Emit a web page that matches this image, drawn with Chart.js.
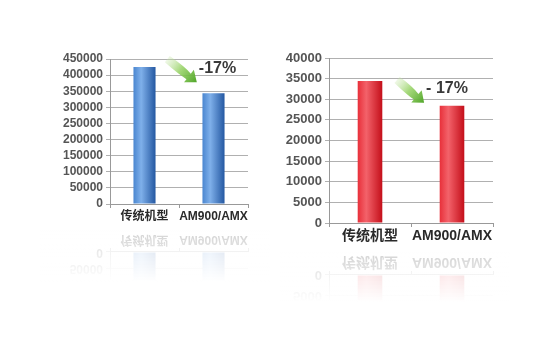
<!DOCTYPE html>
<html>
<head>
<meta charset="utf-8">
<script src="https://cdn.jsdelivr.net/npm/chart.js@4.4.1/dist/chart.umd.min.js"></script>
<style>
  html, body { margin: 0; padding: 0; background: #fff; }
  #wrap { position: relative; width: 540px; height: 360px; overflow: hidden; }
  canvas { position: absolute; }
  #leftChart { left: 40px; top: 40px; }
  #rightChart { left: 280px; top: 40px; }
</style>
</head>
<body>
<div id="wrap">
  <canvas id="leftChart" width="230" height="260"></canvas>
  <canvas id="rightChart" width="230" height="280"></canvas>
</div>
<script>
const categories = ["传统机型", "AM900/AMX"];
const leftValues = [425000, 344000];
const rightValues = [34400, 28400];
const leftTicks = [0, 50000, 100000, 150000, 200000, 250000, 300000, 350000, 400000, 450000];
const rightTicks = [0, 5000, 10000, 15000, 20000, 25000, 30000, 35000, 40000];
const leftNote = "-17%";
const rightNote = "- 17%";

// cylinder-like shading across each bar
function barGradient(stops, pct) {
    return function (ctx) {
        const chart = ctx.chart;
        const x = chart.scales.x;
        if (!x || x.width === undefined) return stops[1];
        const cx = x.getPixelForValue(ctx.dataIndex);
        const w = x.width / categories.length * pct;
        const g = chart.ctx.createLinearGradient(cx - w / 2, 0, cx + w / 2, 0);
        g.addColorStop(0, stops[0]);
        g.addColorStop(0.35, stops[1]);
        g.addColorStop(1, stops[2]);
        return g;
    };
}

// green arrow + percentage text above the second bar
const notePlugin = {
    id: "note",
    afterDatasetsDraw(chart, args, opts) {
        const ctx = chart.ctx;
        const meta = chart.getDatasetMeta(0);
        const b1 = meta.data[0];
        const b2 = meta.data[1];
        const ty = b2.y - opts.lift;
        const tx = b2.x + opts.shift;
        ctx.save();
        ctx.font = "bold " + opts.size + "px 'Liberation Sans', Arial, sans-serif";
        ctx.fillStyle = "#3a3a3a";
        ctx.textAlign = "center";
        ctx.textBaseline = "middle";
        ctx.fillText(opts.text, tx, ty);
        const tw = ctx.measureText(opts.text).width;
        // arrow from near bar 1 towards the text
        const x0 = b1.x + (b2.x - b1.x) * 0.33;
        const y0 = ty - 9;
        const x1 = tx - tw / 2 - 2;
        const y1 = ty + 14;
        const ang = Math.atan2(y1 - y0, x1 - x0);
        const len = Math.hypot(x1 - x0, y1 - y0);
        ctx.translate(x0, y0);
        ctx.rotate(ang);
        const g = ctx.createLinearGradient(0, 0, len, 0);
        g.addColorStop(0, "rgba(200,230,170,0.3)");
        g.addColorStop(0.45, "rgba(150,210,100,0.85)");
        g.addColorStop(1, "rgba(80,165,40,1)");
        ctx.fillStyle = g;
        ctx.beginPath();
        ctx.moveTo(0, -4);
        ctx.quadraticCurveTo(len * 0.5, -5, len - 10, -3);
        ctx.lineTo(len - 10, -8);
        ctx.lineTo(len, 0);
        ctx.lineTo(len - 10, 8);
        ctx.lineTo(len - 10, 4);
        ctx.quadraticCurveTo(len * 0.5, 5, 0, 4);
        ctx.closePath();
        ctx.fill();
        ctx.restore();
    }
};

// faint mirror image below the labels
const mirrorPlugin = {
    id: "mirror",
    afterDraw(chart, args, opts) {
        const c = chart.canvas;
        const ctx = chart.ctx;
        const axisY = chart.chartArea.bottom + opts.gap;
        const h = c.height - axisY;
        if (h <= 0) return;
        const tmp = document.createElement("canvas");
        tmp.width = c.width;
        tmp.height = h;
        tmp.getContext("2d").drawImage(c, 0, axisY - h, c.width, h, 0, 0, c.width, h);
        ctx.save();
        ctx.globalAlpha = opts.alpha;
        ctx.translate(0, axisY * 2);
        ctx.scale(1, -1);
        ctx.drawImage(tmp, 0, axisY - h);
        ctx.restore();
        const fade = ctx.createLinearGradient(0, axisY, 0, c.height);
        fade.addColorStop(0, "rgba(255,255,255,0)");
        fade.addColorStop(0.75, "rgba(255,255,255,1)");
        ctx.fillStyle = fade;
        ctx.fillRect(0, axisY, c.width, h);
    }
};

function makeChart(id, values, ticks, stops, o) {
    const pct = o.pct;
    return new Chart(document.getElementById(id), {
        type: "bar",
        data: {
            labels: categories,
            datasets: [{
                data: values,
                backgroundColor: barGradient(stops, pct),
                borderWidth: 0,
                barPercentage: pct,
                categoryPercentage: 1,
            }],
        },
        options: {
            responsive: false,
            animation: false,
            devicePixelRatio: 1,
            layout: { padding: { top: o.top, right: o.right, bottom: o.bottom, left: 0 } },
            plugins: {
                legend: { display: false },
                tooltip: { enabled: false },
                note: { text: o.note, lift: o.lift, shift: o.shift, size: o.noteSize },
                mirror: { gap: o.gap, alpha: 0.22 },
            },
            scales: {
                x: {
                    grid: { display: true, drawOnChartArea: false, tickLength: 4, color: "#999" },
                    border: { color: "#999" },
                    ticks: {
                        color: "#2a2a2a",
                        padding: 1,
                        autoSkip: false,
                        maxRotation: 0,
                        minRotation: 0,
                        font: { family: "'Liberation Sans', 'Noto Sans CJK SC', Arial, sans-serif", size: o.catSize, weight: "bold" },
                    },
                    afterFit(s) { s.height = o.xh; },
                },
                y: {
                    min: 0,
                    max: ticks[ticks.length - 1],
                    afterBuildTicks(s) { s.ticks = ticks.map(v => ({ value: v })); },
                    grid: { color: "#b0b0b0", tickLength: 4 },
                    border: { color: "#999" },
                    ticks: {
                        color: "#555",
                        padding: 3,
                        autoSkip: false,
                        callback: v => String(v),
                        font: { family: "'Liberation Sans', Arial, sans-serif", size: o.tickSize, weight: "bold" },
                    },
                    afterFit(s) { s.width = o.yw; },
                },
            },
        },
        plugins: [notePlugin, mirrorPlugin],
    });
}

makeChart("leftChart", leftValues, leftTicks,
    ["#4a86d0", "#7fb0ea", "#2458a2"],
    { pct: 0.32, top: 19, right: 22, bottom: 72, xh: 24, yw: 70, gap: 24,
      tickSize: 12, catSize: 12, note: leftNote, lift: 25, shift: 4, noteSize: 16 });

makeChart("rightChart", rightValues, rightTicks,
    ["#e8303a", "#f3626a", "#c40f1a"],
    { pct: 0.3, top: 18, right: 17, bottom: 73, xh: 24, yw: 49, gap: 26,
      tickSize: 13, catSize: 14, note: rightNote, lift: 17, shift: -5, noteSize: 16 });
</script>
</body>
</html>
